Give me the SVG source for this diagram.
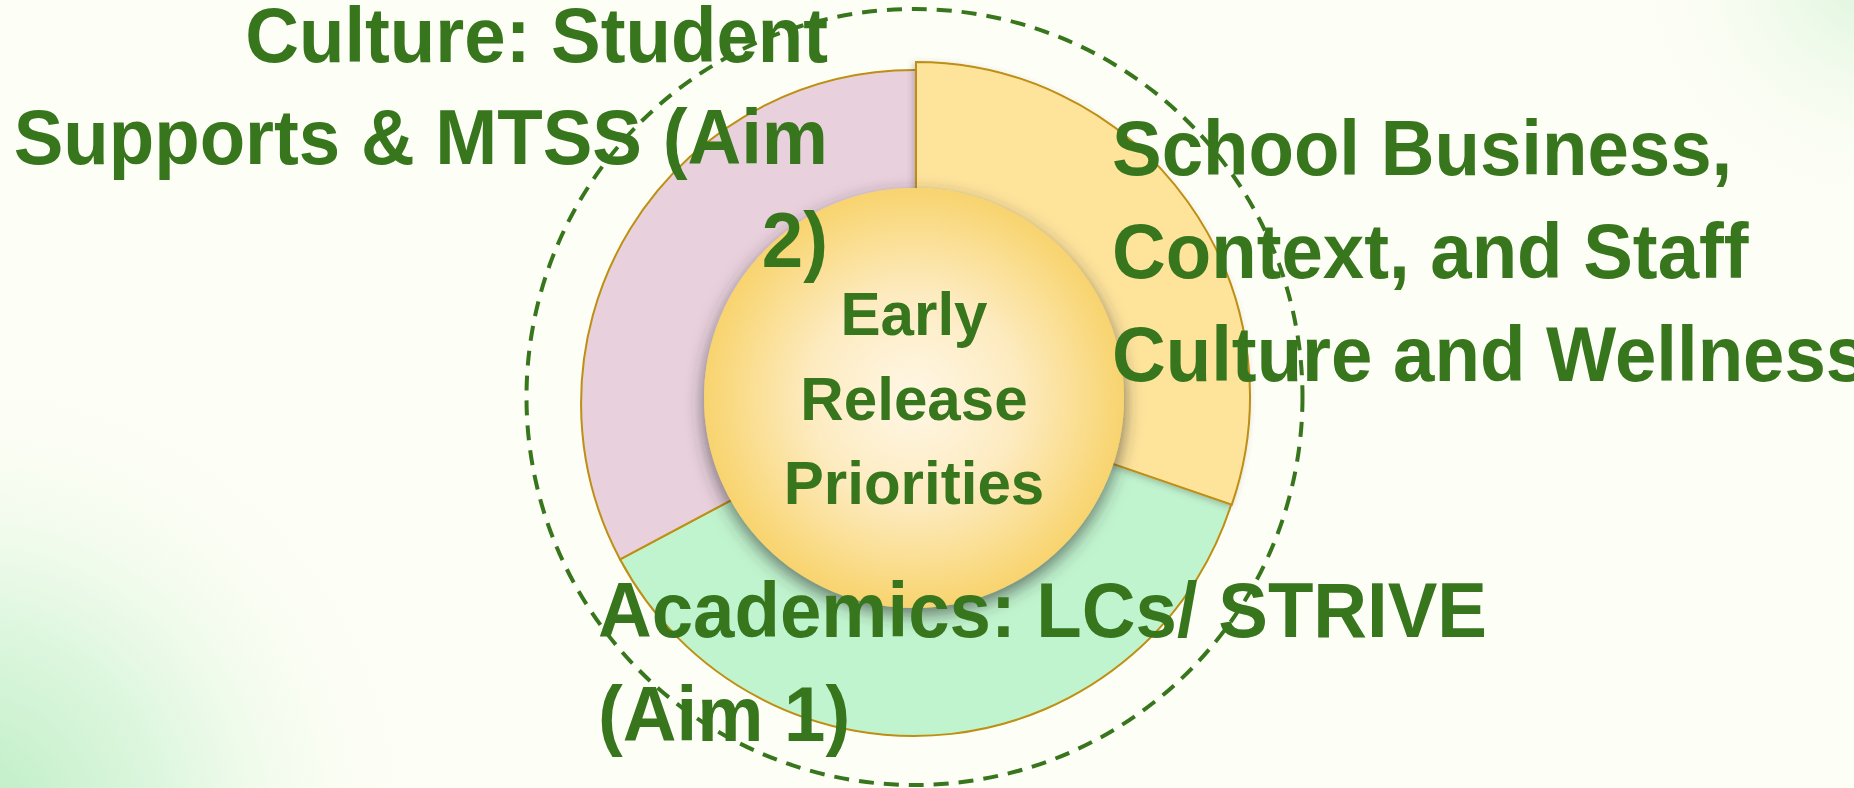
<svg xmlns="http://www.w3.org/2000/svg" width="1854" height="788" viewBox="0 0 1854 788">
  <defs>
    <radialGradient id="glowBL" gradientUnits="userSpaceOnUse" cx="-40" cy="830" r="460">
      <stop offset="0" stop-color="#B6ECBF" stop-opacity="1"/>
      <stop offset="0.45" stop-color="#CFF3D4" stop-opacity="0.7"/>
      <stop offset="1" stop-color="#FDFEF5" stop-opacity="0"/>
    </radialGradient>
    <radialGradient id="glowTR" gradientUnits="userSpaceOnUse" cx="1880" cy="-40" r="250">
      <stop offset="0" stop-color="#CDF1D0" stop-opacity="0.8"/>
      <stop offset="0.5" stop-color="#E2F6E2" stop-opacity="0.4"/>
      <stop offset="1" stop-color="#FDFEF5" stop-opacity="0"/>
    </radialGradient>
    <radialGradient id="centerFill" cx="50%" cy="50%" r="50%">
      <stop offset="0" stop-color="#FFF7E6"/>
      <stop offset="0.5" stop-color="#FDEBC0"/>
      <stop offset="1" stop-color="#F8D46E"/>
    </radialGradient>
    <filter id="centerShadow" x="-20%" y="-20%" width="140%" height="145%">
      <feDropShadow dx="0" dy="7" stdDeviation="9" flood-color="#2E2E2E" flood-opacity="0.65"/>
    </filter>
    <filter id="segShadow" x="-10%" y="-10%" width="125%" height="125%">
      <feDropShadow dx="-2" dy="2" stdDeviation="3" flood-color="#444444" flood-opacity="0.3"/>
    </filter>
    <style>
      .seg { stroke: #BE8F12; stroke-width: 2; stroke-linejoin: miter; }
      .lbl { font-family: "Liberation Sans", Arial, sans-serif; font-weight: bold; fill: #38761D; }
      .big { font-size: 78px; }
      .mid { font-size: 62px; }
      .end { text-anchor: end; }
      .ctr { text-anchor: middle; }
      .dash { fill: none; stroke: #38761D; stroke-width: 4; stroke-dasharray: 15 10; }
    </style>
  </defs>

  <g id="background">
    <rect x="0" y="0" width="1854" height="788" fill="#FDFEF5"/>
    <rect x="0" y="0" width="1854" height="788" fill="url(#glowBL)"/>
    <rect x="0" y="0" width="1854" height="788" fill="url(#glowTR)"/>
  </g>

  <g id="segment-academics">
    <path class="seg" fill="#C0F4CE" d="M1235.7,489.2 A333,333 0 0 1 620.0,559.3 L763.9,482.8 A170,170 0 0 0 1078.2,447.0 Z"/>
  </g>
  <g id="segment-culture">
    <path class="seg" fill="#E8D0DC" d="M620.0,559.3 A333,333 0 0 1 919.8,70.1 L917,233 A170,170 0 0 0 763.9,482.8 Z"/>
  </g>
  <g id="segment-school">
    <path class="seg" fill="#FEE39B" filter="url(#segShadow)" d="M916,62 A334,334 0 0 1 1231.8,504.7 L1076.7,451.4 A170,170 0 0 0 916,226 Z"/>
  </g>

  <g id="center-node">
    <circle cx="914" cy="398" r="210" fill="url(#centerFill)" filter="url(#centerShadow)"/>
    <text class="lbl mid ctr" transform="translate(914,335) scale(0.97,1)">Early</text>
    <text class="lbl mid ctr" transform="translate(914,420) scale(0.97,1)">Release</text>
    <text class="lbl mid ctr" transform="translate(914,504) scale(0.97,1)">Priorities</text>
  </g>

  <g id="label-culture">
    <text class="lbl big end" transform="translate(828,62) scale(0.954,1)">Culture: Student</text>
    <text class="lbl big end" transform="translate(828,164) scale(0.954,1)">Supports &amp; MTSS (Aim</text>
    <text class="lbl big end" transform="translate(828,267) scale(0.954,1)">2)</text>
  </g>

  <g id="label-school">
    <text class="lbl big" transform="translate(1112,175) scale(0.954,1)">School Business,</text>
    <text class="lbl big" transform="translate(1112,278) scale(0.954,1)">Context, and Staff</text>
    <text class="lbl big" transform="translate(1112,381) scale(0.954,1)">Culture and Wellness</text>
  </g>

  <g id="label-academics">
    <text class="lbl big" transform="translate(598,637) scale(0.954,1)">Academics: LCs/ STRIVE</text>
    <text class="lbl big" transform="translate(598,741) scale(0.954,1)">(Aim 1)</text>
  </g>

  <g id="connectors">
    <circle class="dash" cx="914.5" cy="397" r="388"/>
  </g>
</svg>
